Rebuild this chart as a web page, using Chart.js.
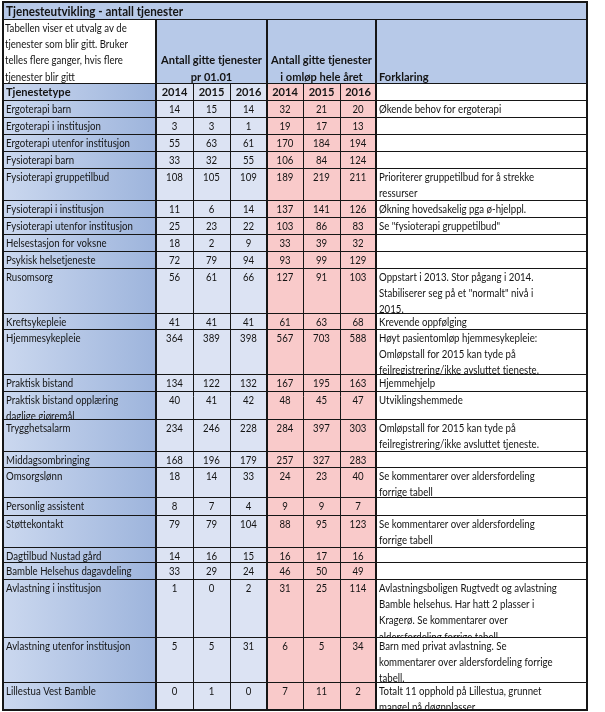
<!DOCTYPE html>
<html>
<head>
<meta charset="utf-8">
<script src="https://cdn.jsdelivr.net/npm/chart.js@4.4.1/dist/chart.umd.min.js"></script>
<style>
  html, body { margin: 0; padding: 0; background: #fff; }
</style>
</head>
<body>
<canvas id="table" width="605" height="712"></canvas>
<script>
// --- table content ---
const title = 'Tjenesteutvikling - antall tjenester';
const intro = ['Tabellen viser et utvalg av de', 'tjenester som blir gitt. Bruker', 'telles flere ganger, hvis flere', 'tjenester blir gitt'];
const groupJan = ['Antall gitte tjenester', 'pr 01.01'];
const groupYear = ['Antall gitte tjenester', 'i omløp hele året'];
const noteHeader = 'Forklaring';
const typeHeader = 'Tjenestetype';
const years = ['2014', '2015', '2016'];

const services = [
    'Ergoterapi barn', 'Ergoterapi i institusjon', 'Ergoterapi utenfor institusjon', 'Fysioterapi barn',
    'Fysioterapi gruppetilbud', 'Fysioterapi i institusjon', 'Fysioterapi utenfor institusjon',
    'Helsestasjon for voksne', 'Psykisk helsetjeneste', 'Rusomsorg', 'Kreftsykepleie', 'Hjemmesykepleie',
    'Praktisk bistand', 'Praktisk bistand opplæring\ndaglige gjøremål', 'Trygghetsalarm', 'Middagsombringing',
    'Omsorgslønn', 'Personlig assistent', 'Støttekontakt', 'Dagtilbud Nustad gård',
    'Bamble Helsehus dagavdeling', 'Avlastning i institusjon', 'Avlastning utenfor institusjon',
    'Lillestua Vest Bamble'
];

// given per 01.01
const jan2014 = [14, 3, 55, 33, 108, 11, 25, 18, 72, 56, 41, 364, 134, 40, 234, 168, 18, 8, 79, 14, 33, 1, 5, 0];
const jan2015 = [15, 3, 63, 32, 105, 6, 23, 2, 79, 61, 41, 389, 122, 41, 246, 196, 14, 7, 79, 16, 29, 0, 5, 1];
const jan2016 = [14, 1, 61, 55, 109, 14, 22, 9, 94, 66, 41, 398, 132, 42, 228, 179, 33, 4, 104, 15, 24, 2, 31, 0];
// given during the whole year
const year2014 = [32, 19, 170, 106, 189, 137, 103, 33, 93, 127, 61, 567, 167, 48, 284, 257, 24, 9, 88, 16, 46, 31, 6, 7];
const year2015 = [21, 17, 184, 84, 219, 141, 86, 39, 99, 91, 63, 703, 195, 45, 397, 327, 23, 9, 95, 17, 50, 25, 5, 11];
const year2016 = [20, 13, 194, 124, 211, 126, 83, 32, 129, 103, 68, 588, 163, 47, 303, 283, 40, 7, 123, 16, 49, 114, 34, 2];

const notes = [
    'Økende behov for ergoterapi', '', '', '',
    'Prioriterer gruppetilbud for å strekke\nressurser',
    'Økning hovedsakelig pga ø-hjelppl.',
    'Se "fysioterapi gruppetilbud"', '', '',
    'Oppstart i 2013. Stor pågang i 2014.\nStabiliserer seg på et "normalt" nivå i\n2015.',
    'Krevende oppfølging',
    'Høyt pasientomløp hjemmesykepleie:\nOmløpstall for 2015 kan tyde på\nfeilregistrering/ikke avsluttet tjeneste.',
    'Hjemmehjelp', 'Utviklingshemmede',
    'Omløpstall for 2015 kan tyde på\nfeilregistrering/ikke avsluttet tjeneste.',
    '',
    'Se kommentarer over aldersfordeling\nforrige tabell',
    '',
    'Se kommentarer over aldersfordeling\nforrige tabell',
    '', '',
    'Avlastningsboligen Rugtvedt og avlastning\nBamble helsehus. Har hatt 2 plasser i\nKragerø. Se kommentarer over\naldersfordeling forrige tabell.',
    'Barn med privat avlastning. Se\nkommentarer over aldersfordeling forrige\ntabell.',
    'Totalt 11 opphold på Lillestua, grunnet\nmangel på døgnplasser'
];

// --- layout, in axis units ---
const colWidths = [153, 37, 37, 37, 36, 37, 36, 211];
const rowHeights = [17, 17, 17, 17, 32, 17, 17, 17, 17, 45, 16, 45, 17, 28, 32, 16, 30, 18, 32, 15, 17, 58, 45, 28];
const TITLE_H = 17, HEAD_H = 64, YEAR_H = 17;
const LINE = 16.3;

const BLUE_HEAD = '#b7c9e8';
const BLUE_CELL = '#dce3f3';
const PINK_CELL = '#f9caca';
const INK = '#141414';
const FONT = 'Lato, "Open Sans", sans-serif';

const colEdges = [0];
colWidths.forEach(w => colEdges.push(colEdges[colEdges.length - 1] + w));
const rowTop = [TITLE_H + HEAD_H + YEAR_H];
rowHeights.forEach(h => rowTop.push(rowTop[rowTop.length - 1] + h));

const tablePlugin = {
    id: 'tableDraw',
    afterDraw(chart) {
        const ctx = chart.ctx;
        const sx = chart.scales.x, sy = chart.scales.y;
        const X = v => sx.getPixelForValue(v);
        const Y = v => sy.getPixelForValue(v);

        const reg = '12px ' + FONT;
        const bold = 'bold 12px ' + FONT;
        const titleFont = 'bold 14px ' + FONT;

        // squeeze text so it runs as narrow as the original spreadsheet font
        ctx.font = reg;
        const kReg = 124 / ctx.measureText('Ergoterapi utenfor institusjon').width;
        ctx.font = bold;
        const kBold = 101 / ctx.measureText('Antall gitte tjenester').width;
        ctx.font = titleFont;
        const kTitle = 177 / ctx.measureText(title).width;

        function text(str, x, y, align, style, k) {
            ctx.font = style;
            const w = ctx.measureText(str).width * k;
            let left = x;
            if (align === 'center') left = x - w / 2;
            if (align === 'right') left = x - w;
            ctx.save();
            ctx.translate(left, y);
            ctx.scale(k, 1);
            ctx.fillStyle = INK;
            ctx.textAlign = 'left';
            ctx.textBaseline = 'middle';
            ctx.fillText(str, 0, 0);
            ctx.restore();
        }
        function box(c0, c1, y0, y1, fill) {
            ctx.fillStyle = fill;
            ctx.fillRect(X(colEdges[c0]), Y(y0), X(colEdges[c1]) - X(colEdges[c0]), Y(y1) - Y(y0));
        }
        function clipTo(c0, c1, y0, y1) {
            ctx.save();
            ctx.beginPath();
            ctx.rect(X(colEdges[c0]), Y(y0), X(colEdges[c1]) - X(colEdges[c0]), Y(y1) - Y(y0));
            ctx.clip();
        }
        function sideGradient() {
            const g = ctx.createLinearGradient(X(colEdges[0]), 0, X(colEdges[1]), 0);
            g.addColorStop(0, '#cbd8ef');
            g.addColorStop(1, '#9db4dc');
            return g;
        }

        const headTop = TITLE_H, yearTop = TITLE_H + HEAD_H, bodyTop = rowTop[0];
        const bottom = rowTop[rowTop.length - 1];

        // title bar
        box(0, 8, 0, TITLE_H, BLUE_HEAD);
        text(title, X(3), Y(TITLE_H / 2 + 0.5), 'left', titleFont, kTitle);

        // header block
        box(0, 1, headTop, yearTop, '#ffffff');
        box(1, 8, headTop, yearTop, BLUE_HEAD);
        intro.forEach((s, i) => text(s, X(2), Y(headTop + 9 + i * LINE), 'left', reg, kReg));
        groupJan.forEach((s, i) => text(s, (X(colEdges[1]) + X(colEdges[4])) / 2, Y(headTop + 9 + (i + 2) * LINE), 'center', bold, kBold));
        groupYear.forEach((s, i) => text(s, (X(colEdges[4]) + X(colEdges[7])) / 2, Y(headTop + 9 + (i + 2) * LINE), 'center', bold, kBold));
        text(noteHeader, X(colEdges[7] + 3), Y(headTop + 9 + 3 * LINE), 'left', bold, kBold);

        // year row
        box(0, 1, yearTop, bodyTop, sideGradient());
        box(1, 4, yearTop, bodyTop, BLUE_CELL);
        box(4, 7, yearTop, bodyTop, PINK_CELL);
        box(7, 8, yearTop, bodyTop, '#ffffff');
        text(typeHeader, X(3), Y(yearTop + 9), 'left', bold, kBold);
        [...years, ...years].forEach((s, i) => {
            const cx = (X(colEdges[i + 1]) + X(colEdges[i + 2])) / 2;
            text(s, cx, Y(yearTop + 9), 'center', bold, kBold);
        });

        // body
        const series = [jan2014, jan2015, jan2016, year2014, year2015, year2016];
        services.forEach((name, r) => {
            const y0 = rowTop[r], y1 = rowTop[r + 1];
            box(0, 1, y0, y1, sideGradient());
            box(1, 4, y0, y1, BLUE_CELL);
            box(4, 7, y0, y1, PINK_CELL);
            box(7, 8, y0, y1, '#ffffff');

            clipTo(0, 1, y0, y1);
            name.split('\n').forEach((s, i) => text(s, X(3), Y(y0 + 9 + i * LINE), 'left', reg, kReg));
            ctx.restore();

            series.forEach((vals, c) => {
                const cx = (X(colEdges[c + 1]) + X(colEdges[c + 2])) / 2;
                text(String(vals[r]), cx, Y(y0 + 9), 'center', reg, kReg);
            });

            if (notes[r]) {
                clipTo(7, 8, y0, y1);
                notes[r].split('\n').forEach((s, i) => text(s, X(colEdges[7] + 3), Y(y0 + 9 + i * LINE), 'left', reg, kReg));
                ctx.restore();
            }
        });

        // grid lines
        ctx.strokeStyle = '#161616';
        function hline(v, c0, c1, w) {
            ctx.lineWidth = w;
            const p = Math.round(Y(v)) + (w % 2 ? 0.5 : 0);
            ctx.beginPath();
            ctx.moveTo(X(colEdges[c0]), p);
            ctx.lineTo(X(colEdges[c1]), p);
            ctx.stroke();
        }
        function vline(c, v0, v1, w) {
            ctx.lineWidth = w;
            const p = Math.round(X(colEdges[c])) + (w % 2 ? 0.5 : 0);
            ctx.beginPath();
            ctx.moveTo(p, Y(v0));
            ctx.lineTo(p, Y(v1));
            ctx.stroke();
        }
        hline(headTop, 0, 8, 1);
        hline(yearTop, 0, 8, 1);
        rowTop.slice(0, -1).forEach(v => hline(v, 0, 8, 1));
        [2, 3, 5, 6].forEach(c => vline(c, yearTop, bottom, 1));
        [1, 4, 7].forEach(c => vline(c, headTop, bottom, 2));
        ctx.lineWidth = 2;
        ctx.strokeRect(X(0), Y(0), X(colEdges[8]) - X(0), Y(bottom) - Y(0));
    }
};

new Chart(document.getElementById('table'), {
    type: 'scatter',
    data: { datasets: [] },
    options: {
        responsive: false,
        animation: false,
        devicePixelRatio: 1,
        layout: { padding: { left: 3, top: 2, right: 18, bottom: 2 } },
        plugins: { legend: { display: false }, tooltip: { enabled: false } },
        scales: {
            x: { type: 'linear', min: 0, max: 584, display: false },
            y: { type: 'linear', min: 0, max: 708, reverse: true, display: false }
        }
    },
    plugins: [tablePlugin]
});
</script>
</body>
</html>
